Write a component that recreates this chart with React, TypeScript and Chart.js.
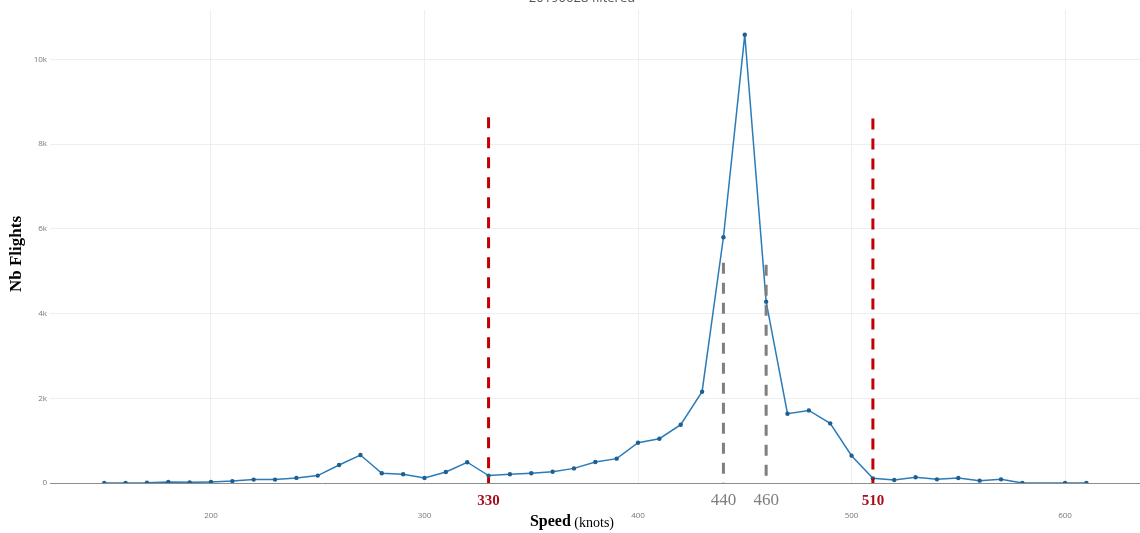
import React, { useEffect, useRef } from 'react';
import { Chart, registerables } from 'chart.js';

Chart.register(...registerables);

// Speed classes (knots) and number of flights per class
const speeds = [150, 160, 170, 180, 190, 200, 210, 220, 230, 240, 250, 260, 270, 280, 290, 300, 310, 320, 330, 340, 350, 360, 370, 380, 390, 400, 410, 420, 430, 440, 450, 460, 470, 480, 490, 500, 510, 520, 530, 540, 550, 560, 570, 580, 600, 610];
const flights = [0, 0, 5, 25, 15, 25, 45, 80, 80, 120, 175, 425, 660, 230, 205, 120, 260, 490, 175, 205, 230, 265, 345, 495, 575, 950, 1045, 1375, 2155, 5800, 10580, 4280, 1635, 1713, 1407, 645, 110, 71, 134, 86, 118, 55, 86, 0, 0, 0];

// Threshold markers
const markerSpeeds = [330, 440, 460, 510];
const markerHeights = [8630, 5200, 5150, 8600];
const markerColors = ['#c00000', '#7f7f7f', '#7f7f7f', '#c00000'];
const markerLabelColors = ['#a50e1a', '#7f7f7f', '#7f7f7f', '#a50e1a'];
const markerLabelBold = [true, false, false, true];

const yTicks = [0, 2000, 4000, 6000, 8000, 10000];
const yTickLabels = ['0', '2k', '4k', '6k', '8k', '10k'];
const xTicks = [200, 300, 400, 500, 600];

const chartTitle = '20190628 filtered';

const textPlugin = {
  id: 'texts',
  afterDraw(chart: any) {
    const ctx = chart.ctx;
    const x = chart.scales.x;
    ctx.save();

    // clipped title at the very top
    ctx.fillStyle = '#555';
    ctx.font = '13px "Open Sans"';
    ctx.textAlign = 'center';
    ctx.textBaseline = 'alphabetic';
    ctx.fillText(chartTitle, 582, 2);

    // marker labels under the axis
    markerSpeeds.forEach((s, i) => {
      ctx.fillStyle = markerLabelColors[i];
      ctx.font = (markerLabelBold[i] ? 'bold 15px' : '17px') + ' "Liberation Serif"';
      ctx.textAlign = 'center';
      ctx.textBaseline = 'middle';
      ctx.fillText(String(s), x.getPixelForValue(s), 501);
    });

    // x axis title: "Speed (knots)"
    ctx.fillStyle = '#000';
    ctx.textBaseline = 'middle';
    ctx.textAlign = 'left';
    ctx.font = 'bold 16px "Liberation Serif"';
    const w1 = ctx.measureText('Speed').width;
    ctx.font = '14px "Liberation Serif"';
    const w2 = ctx.measureText(' (knots)').width;
    const start = 572 - (w1 + w2) / 2;
    ctx.font = 'bold 16px "Liberation Serif"';
    ctx.fillText('Speed', start, 522);
    ctx.font = '14px "Liberation Serif"';
    ctx.fillText(' (knots)', start + w1, 523);

    // y axis title
    ctx.translate(17, 254);
    ctx.rotate(-Math.PI / 2);
    ctx.textAlign = 'center';
    ctx.font = 'bold 17px "Liberation Serif"';
    ctx.fillText('Nb Flights', 0, 0);
    ctx.restore();
  },
};

export default function App() {
  const chartRef = useRef<HTMLCanvasElement>(null);
  const chartInstance = useRef<Chart | null>(null);

  useEffect(() => {
    if (!chartRef.current) return;
    if (chartInstance.current) chartInstance.current.destroy();

    const markerSets = markerSpeeds.map((s, i) => ({
      data: [{ x: s, y: markerHeights[i] }, { x: s, y: 0 }],
      borderColor: markerColors[i],
      borderWidth: 3,
      borderDash: [11, 9],
      pointRadius: 0,
      fill: false,
    }));

    chartInstance.current = new Chart(chartRef.current, {
      type: 'line',
      data: {
        datasets: [
          ...markerSets,
          {
            data: speeds.map((s, i) => ({ x: s, y: flights[i] })),
            borderColor: '#2b7bb9',
            backgroundColor: '#1f5f8f',
            borderWidth: 1.5,
            pointRadius: 2.2,
            pointBorderWidth: 0,
            tension: 0,
            fill: false,
          },
        ],
      },
      options: {
        animation: false,
        responsive: true,
        maintainAspectRatio: false,
        layout: { padding: { top: 10, right: 0, left: 0, bottom: 0 } },
        plugins: {
          legend: { display: false },
          tooltip: { enabled: false },
        },
        scales: {
          x: {
            type: 'linear',
            min: 124.6,
            max: 635.1,
            afterFit: (scale: any) => { scale.height = 50; },
            afterBuildTicks: (scale: any) => { scale.ticks = xTicks.map((v) => ({ value: v })); },
            border: { display: false },
            grid: { color: '#eeeeee', drawTicks: false },
            ticks: {
              color: '#777',
              font: { size: 8, family: '"Open Sans"' },
              padding: 28,
              maxRotation: 0,
            },
          },
          y: {
            type: 'linear',
            min: 0,
            max: 11163,
            afterFit: (scale: any) => { scale.width = 50; },
            afterBuildTicks: (scale: any) => { scale.ticks = yTicks.map((v) => ({ value: v })); },
            border: { display: false },
            grid: {
              color: (c: any) => (c.tick && c.tick.value === 0 ? '#8c8c8c' : '#eeeeee'),
              drawTicks: false,
            },
            ticks: {
              color: '#777',
              font: { size: 8, family: '"Open Sans"' },
              padding: 3,
              callback: (v: any) => yTickLabels[yTicks.indexOf(Number(v))] ?? '',
            },
          },
        },
      },
      plugins: [textPlugin],
    });

    return () => {
      if (chartInstance.current) {
        chartInstance.current.destroy();
        chartInstance.current = null;
      }
    };
  }, []);

  return (
    <div style={{ position: 'fixed', left: 0, top: 0, width: 1140, height: 533, overflow: 'hidden', background: '#fff' }}>
      <div style={{ position: 'relative', width: 1144, height: 533 }}>
        <canvas ref={chartRef}></canvas>
      </div>
    </div>
  );
}
